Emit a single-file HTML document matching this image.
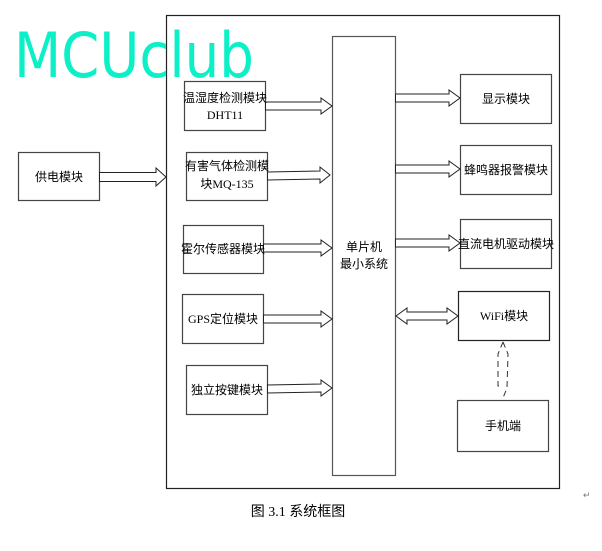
<!DOCTYPE html>
<html><head><meta charset="utf-8"><style>
html,body{margin:0;padding:0;background:#fff;}
svg{display:block}
text{font-family:"Liberation Serif","Noto Sans CJK SC",serif;font-size:12px;fill:#000}
</style></head><body>
<svg width="602" height="551" viewBox="0 0 602 551" xmlns="http://www.w3.org/2000/svg">
<g fill="#fff" stroke="#000" stroke-width="1.2">
<rect x="166.5" y="15.5" width="393" height="473" stroke="#222"/>
<rect x="332.5" y="36.5" width="63" height="439" stroke="#555"/>
<rect x="18.5" y="152.5" width="81" height="48" stroke="#444"/>
<rect x="184.5" y="81.5" width="81" height="49" stroke="#444"/>
<rect x="186.5" y="152.5" width="81" height="48" stroke="#444"/>
<rect x="183.5" y="225.5" width="80" height="48" stroke="#444"/>
<rect x="182.5" y="294.5" width="81" height="49" stroke="#444"/>
<rect x="186.5" y="365.5" width="81" height="49" stroke="#444"/>
<rect x="460.5" y="74.5" width="91" height="49" stroke="#444"/>
<rect x="460.5" y="145.5" width="91" height="49" stroke="#444"/>
<rect x="460.5" y="219.5" width="91" height="49" stroke="#444"/>
<rect x="458.5" y="291.5" width="91" height="49" stroke="#222"/>
<rect x="457.5" y="400.5" width="91" height="51" stroke="#444"/>
</g>
<g fill="#fff" stroke="#222" stroke-width="1">
<polygon points="99.5,172.5 156,172.5 156,168 166,177 156,186 156,181.5 99.5,181.5"/>
<polygon points="265.5,102 321,102 321,98 332,106 321,114 321,110 265.5,110"/>
<polygon points="267.5,172 320,171 320,167 330,175 320,183 320,179 267.5,180"/>
<polygon points="263.5,244 321,244 321,240 332,248 321,256 321,252 263.5,252"/>
<polygon points="263.5,315 321,315 321,311 332,319 321,327 321,323 263.5,323"/>
<polygon points="267.5,385 321,384 321,380 332,388 321,396 321,392 267.5,393"/>
<polygon points="395.5,94 449,94 449,90 460,98 449,106 449,102 395.5,102"/>
<polygon points="395.5,165 449,165 449,161 460,169 449,177 449,173 395.5,173"/>
<polygon points="395.5,239 449,239 449,235 460,243 449,251 449,247 395.5,247"/>
<polygon points="396,316 407,308 407,312 447,312 447,308 458,316 447,324 447,320 407,320 407,324"/>
</g>
<g fill="none" stroke="#333" stroke-width="1" stroke-dasharray="6,4">
<path d="M503,342 L498,354 L498,386 L501,386"/>
<path d="M503,342 L508,354 L507,388 L503,398"/>
</g>
<text x="59" y="181" text-anchor="middle">供电模块</text>
<text x="225" y="102" text-anchor="middle">温湿度检测模块</text>
<text x="225" y="119" text-anchor="middle">DHT11</text>
<text x="227" y="170" text-anchor="middle">有害气体检测模</text>
<text x="227" y="188" text-anchor="middle">块MQ-135</text>
<text x="223" y="253" text-anchor="middle">霍尔传感器模块</text>
<text x="223" y="323" text-anchor="middle">GPS定位模块</text>
<text x="227" y="394" text-anchor="middle">独立按键模块</text>
<text x="364" y="251" text-anchor="middle">单片机</text>
<text x="364" y="268" text-anchor="middle">最小系统</text>
<text x="506" y="103" text-anchor="middle">显示模块</text>
<text x="506" y="174" text-anchor="middle">蜂鸣器报警模块</text>
<text x="506" y="248" text-anchor="middle">直流电机驱动模块</text>
<text x="504" y="320" text-anchor="middle">WiFi模块</text>
<text x="503" y="430" text-anchor="middle">手机端</text>
<text x="298" y="516" text-anchor="middle" style="font-size:14px">图 3.1 系统框图</text>
<text x="583" y="498" style="font-size:9px;fill:#777">↵</text>
<text x="14" y="77" textLength="240" lengthAdjust="spacingAndGlyphs" style="font-family:'DejaVu Sans',sans-serif;font-size:62px;fill:#0cf0c8">MCUclub</text>
</svg>
</body></html>
